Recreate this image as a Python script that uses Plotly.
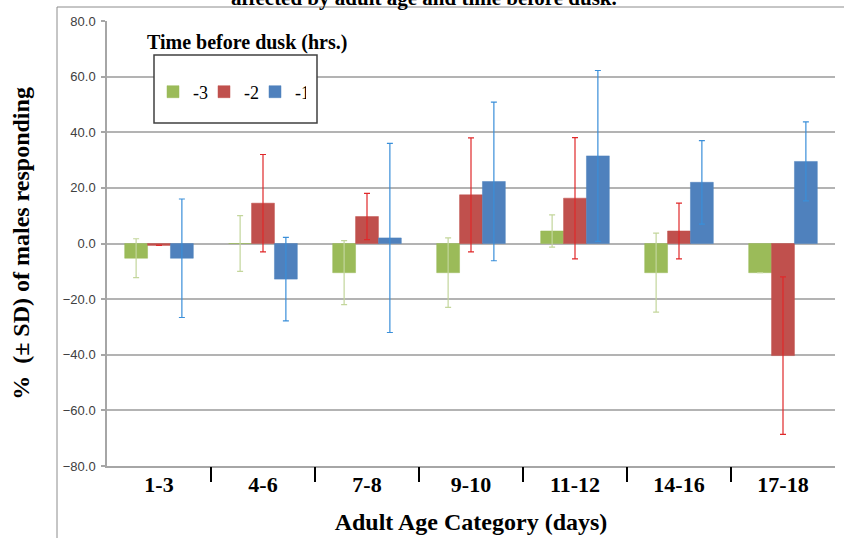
import plotly.graph_objects as go

categories = ["1-3", "4-6", "7-8", "9-10", "11-12", "14-16", "17-18"]
series_names = ["-3", "-2", "-1"]
vals_m3 = [-5.3, 0.0, -10.5, -10.5, 4.5, -10.5, -10.5]
sd_m3 = [7.0, 10.0, 11.5, 12.5, 5.8, 14.2, None]
vals_m2 = [-0.7, 14.5, 9.7, 17.5, 16.3, 4.5, -40.3]
sd_m2 = [None, 17.5, 8.3, 20.5, 21.8, 10.0, 28.3]
vals_m1 = [-5.3, -12.8, 2.0, 22.3, 31.5, 22.0, 29.5]
sd_m1 = [21.3, 15.0, 34.0, 28.5, 30.7, 15.0, 14.2]
y_ticks = [-80, -60, -40, -20, 0, 20, 40, 60, 80]
separator_ticks = [i + 0.5 for i in range(len(categories) - 1)]

bar_colors = ["#9BBB59", "#C0504D", "#4F81BD"]
err_colors = ["#C3D69B", "#E0282A", "#3A8FD9"]

W, H = 844, 538
L, R, T, B = 107, 9, 21, 72
PW, PH = W - L - R, H - T - B


def px(x):
    return (x - L) / PW


def py(y):
    return 1 - (y - T) / PH


fig = go.Figure()
for name, vals, sds, bc, ec in zip(series_names, [vals_m3, vals_m2, vals_m1],
                                   [sd_m3, sd_m2, sd_m1], bar_colors, err_colors):
    fig.add_trace(go.Bar(
        x=categories, y=vals, name=name,
        marker=dict(color=bc, line=dict(color=bc, width=0.5)),
        error_y=dict(type="data", array=sds, visible=True, color=ec,
                     thickness=1.2, width=3),
    ))

# invisible trace on an overlay axis that carries the category separator ticks
fig.add_trace(go.Scatter(x=[-0.5, len(categories) - 0.5], y=[0, 0], xaxis="x2",
                         mode="lines", line=dict(width=0), showlegend=False,
                         hoverinfo="skip"))

serif = "Liberation Serif"
fig.update_layout(
    width=W, height=H,
    margin=dict(l=L, r=R, t=T, b=B, pad=0),
    paper_bgcolor="white", plot_bgcolor="white",
    barmode="group", bargap=0.34, bargroupgap=0,
    showlegend=True,
    legend=dict(orientation="h", x=px(153), xanchor="left", y=py(92), yanchor="middle",
                font=dict(family=serif, size=18, color="black"),
                bgcolor="rgba(0,0,0,0)", borderwidth=0,
                entrywidth=6, entrywidthmode="pixels", traceorder="normal"),
    xaxis=dict(
        type="category", categoryorder="array", categoryarray=categories,
        range=[-0.5, len(categories) - 0.5],
        showgrid=False, zeroline=False, automargin=False,
        showline=True, linecolor="#A6A6A6", linewidth=1.5,
        ticks="", ticklabelstandoff=-2,
        tickfont=dict(family=serif, size=22, color="black", weight="bold"),
        title=dict(text="<b>Adult Age Category (days)</b>", standoff=17,
                   font=dict(family=serif, size=24, color="black")),
    ),
    xaxis2=dict(
        overlaying="x", side="bottom", range=[-0.5, len(categories) - 0.5],
        tickvals=separator_ticks, showticklabels=False, showgrid=False, zeroline=False,
        ticks="outside", ticklen=15, tickwidth=2, tickcolor="black",
        showline=False, automargin=False,
    ),
    yaxis=dict(
        range=[-80, 80], tickvals=y_ticks, tickformat=".1f", automargin=False,
        showgrid=True, gridcolor="#B3B3B3", gridwidth=1.5,
        zeroline=True, zerolinecolor="#B3B3B3", zerolinewidth=1.5,
        showline=True, linecolor="#A6A6A6", linewidth=1.5,
        ticks="outside", ticklen=4, tickcolor="#A6A6A6", tickwidth=1.5,
        ticklabelstandoff=3,
        tickfont=dict(family="Liberation Sans", size=13, color="#404040"),
        title=dict(text="<b>%  (± SD) of males responding</b>", standoff=26,
                   font=dict(family=serif, size=24, color="black")),
    ),
    shapes=[
        dict(type="rect", xref="paper", yref="paper",
             x0=px(57), x1=px(W + 10), y0=py(7), y1=py(H + 10),
             line=dict(color="#8C8C8C", width=1), fillcolor="rgba(0,0,0,0)", layer="below"),
        dict(type="rect", xref="paper", yref="paper",
             x0=px(154), x1=px(317), y0=py(123), y1=py(55),
             line=dict(color="#404040", width=1.5), fillcolor="white", layer="above"),
    ],
    annotations=[
        dict(text="<b>affected by adult age and time before dusk.</b>", xref="paper", yref="paper",
             x=px(424), y=py(-2), xanchor="center", yanchor="middle", showarrow=False,
             font=dict(family=serif, size=21, color="black")),
        dict(text="<b>Time before dusk (hrs.)</b>", xref="paper", yref="paper",
             x=px(247), y=py(43), xanchor="center", yanchor="middle", showarrow=False,
             font=dict(family=serif, size=20, color="black")),
    ],
)

fig.write_html("out.html", config={"displayModeBar": False},
               post_script="document.body.style.margin='0';document.body.style.padding='0';")
